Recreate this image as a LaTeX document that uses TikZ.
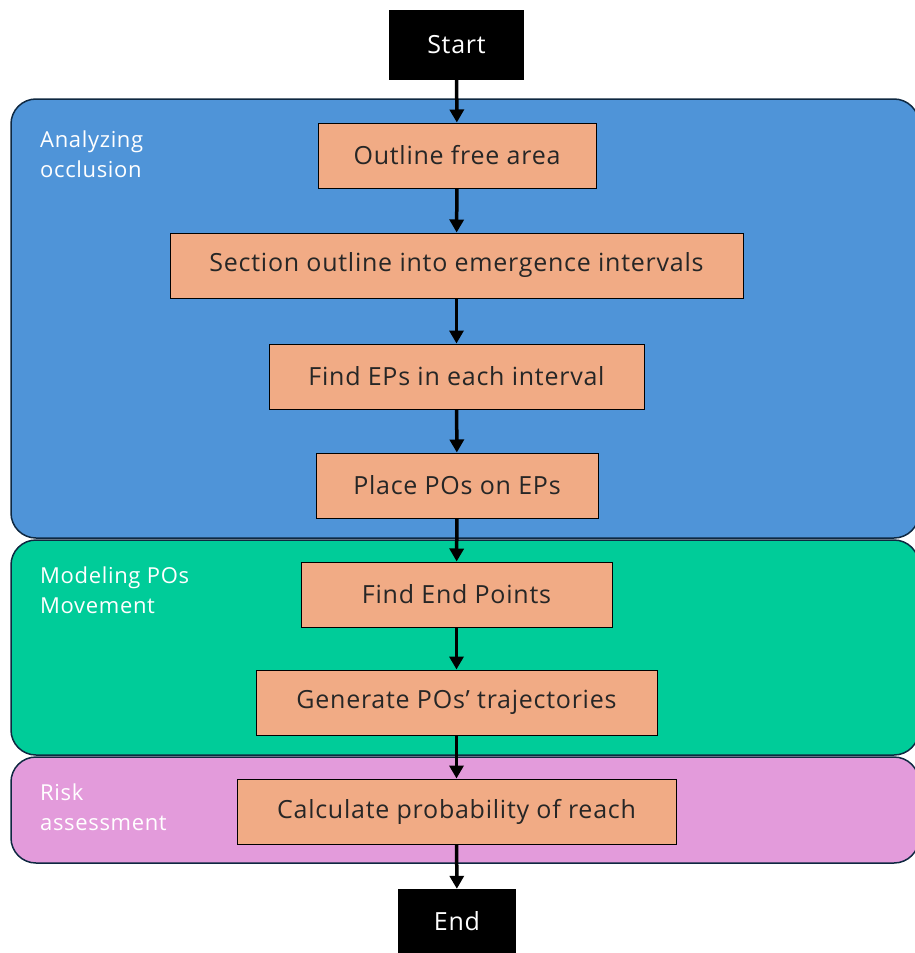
\documentclass[tikz,border=0pt]{standalone}
\usepackage{fontspec}
\setmainfont{Open Sans}[LetterSpace=3]
\usetikzlibrary{arrows.meta}
\definecolor{pblue}{HTML}{4F94D8}
\definecolor{pgreen}{HTML}{00CC99}
\definecolor{ppink}{HTML}{E39BDB}
\definecolor{porange}{HTML}{F1AB85}
\definecolor{pnavy}{HTML}{0E2841}
\tikzset{
  panel/.style={draw=pnavy, line width=1.5pt, rounded corners=25pt},
  stepbox/.style={draw=black, line width=1pt, fill=porange, inner sep=0pt, font=\fontsize{25}{30}\selectfont, text=black!85},
  termbox/.style={fill=black, inner sep=0pt, font=\fontsize{25}{30}\selectfont, text=white},
  plabel/.style={anchor=north west, align=left, text=white, inner sep=0pt, font=\fontsize{22}{30}\selectfont},
  flow/.style={line width=3.5pt, -{Triangle[length=13pt,width=14pt]}}
}
\begin{document}
\begin{tikzpicture}[x=1pt,y=-1pt]
\useasboundingbox (0,0) rectangle (915,953);
\clip (0,0) rectangle (915,953);
% panels
\draw[panel, fill=pblue] (11,99) rectangle (919,538);
\draw[panel, fill=pgreen] (11,540) rectangle (919,755);
\draw[panel, fill=ppink] (11,757) rectangle (919,863);
% panel labels
\node[plabel] (la) at (40,131) {Analyzing\\occlusion};
\node[plabel] (lb) at (40,567) {Modeling POs\\Movement};
\node[plabel] (lc) at (40,784) {Risk\\assessment};
% terminals
\node[termbox, minimum width=135pt, minimum height=70pt] (start) at (456.5,45) {Start};
\node[termbox, minimum width=118pt, minimum height=64pt] (end) at (457,921) {End};
% steps
\node[stepbox, minimum width=278pt, minimum height=65pt] (s1) at (457,155.5) {Outline free area};
\node[stepbox, minimum width=573pt, minimum height=65pt] (s2) at (456.5,265.5) {Section outline into emergence intervals};
\node[stepbox, minimum width=375pt, minimum height=65pt] (s3) at (456.5,376.5) {Find EPs in each interval};
\node[stepbox, minimum width=282pt, minimum height=65pt] (s4) at (457,485.5) {Place POs on EPs};
\node[stepbox, minimum width=311pt, minimum height=65pt] (s5) at (456.5,594.5) {Find End Points};
\node[stepbox, minimum width=401pt, minimum height=65pt] (s6) at (456.5,702.5) {Generate POs’ trajectories};
\node[stepbox, minimum width=439pt, minimum height=65pt] (s7) at (456.5,811.5) {Calculate probability of reach};
% arrows
\draw[flow] (start) -- (s1);
\draw[flow] (s1) -- (s2);
\draw[flow] (s2) -- (s3);
\draw[flow] (s3) -- (s4);
\draw[flow] (s4) -- (s5);
\draw[flow] (s5) -- (s6);
\draw[flow] (s6) -- (s7);
\draw[flow] (s7) -- (end);
\end{tikzpicture}
\end{document}
